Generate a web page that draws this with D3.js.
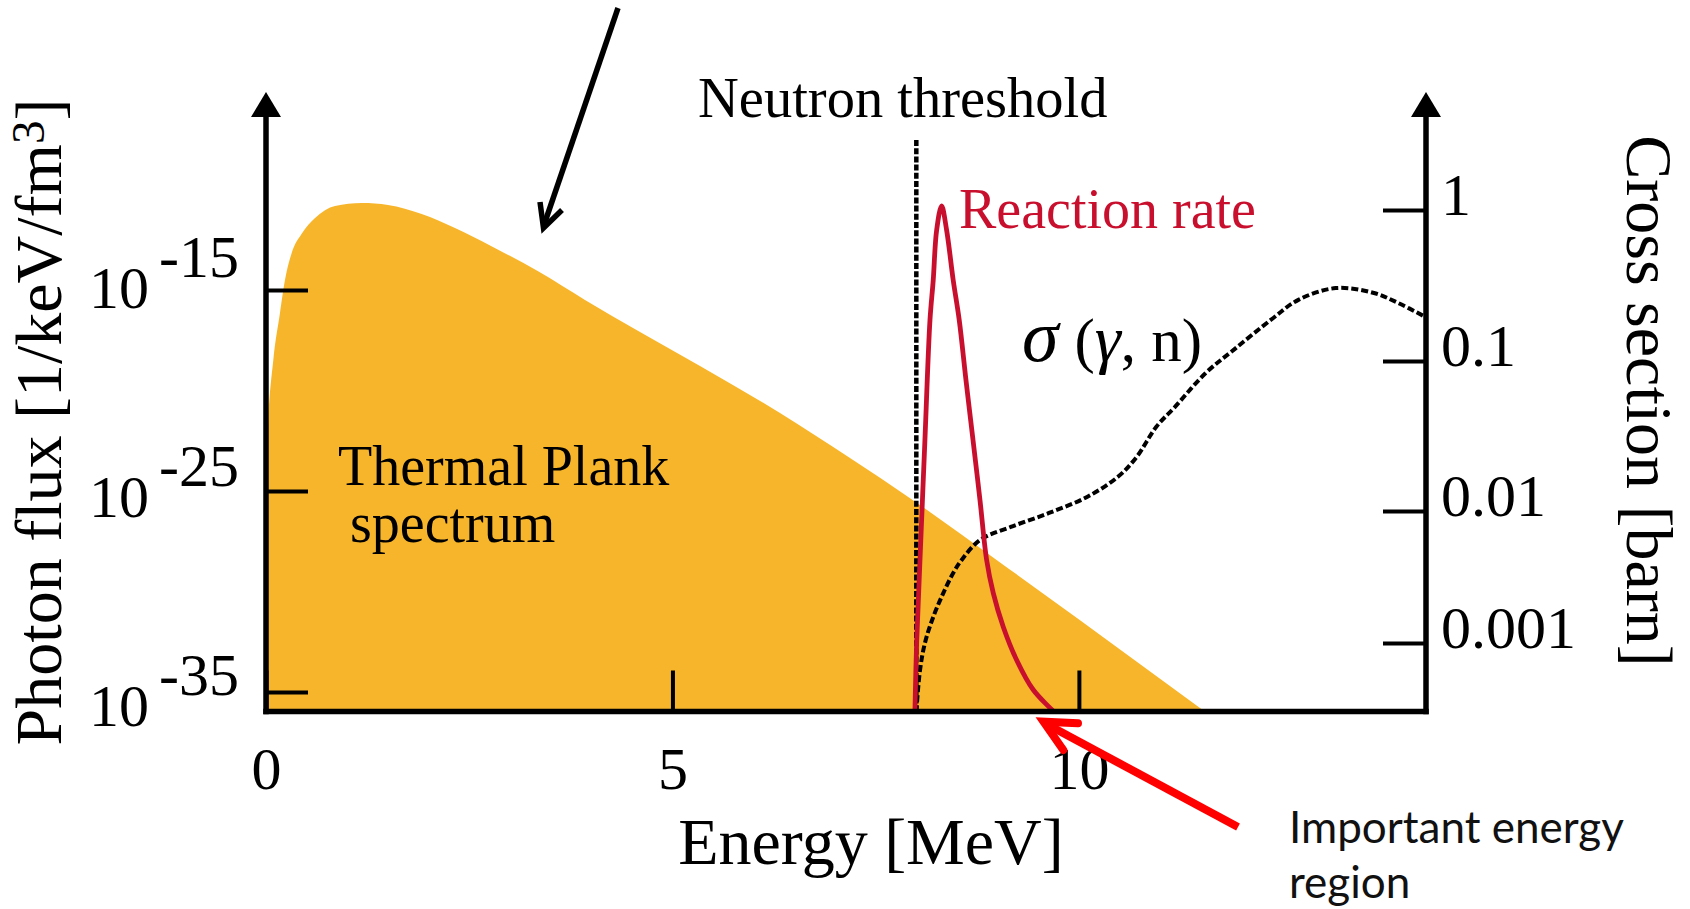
<!DOCTYPE html>
<html>
<head>
<meta charset="utf-8">
<script src="https://cdn.jsdelivr.net/npm/d3@7"></script>
<style>
  html, body { margin: 0; padding: 0; background: #fff; }
  svg { display: block; }
</style>
</head>
<body>
<svg id="chart" width="1690" height="909"></svg>
<script>
// ---- Axis ticks ----
const energyTicks = [0, 5, 10];                 // MeV
const fluxTickExponents = [-15, -25, -35];      // 10^n  [1/keV/fm^3]
const sigmaTickLogs = [0, -1, -2, -3];          // log10(barn)
const thresholdEnergy = 8.0;                    // MeV

// ---- Thermal Planck photon spectrum ----
const planckEnergy = [0, 0.028, 0.09, 0.172, 0.234, 0.316, 0.439, 0.603, 0.849, 1.177,
  1.501, 1.915, 2.325, 2.768, 3.358, 3.924, 4.601, 5.339, 6.323, 7.184,
  7.959, 9.03, 10.01, 10.75, 11.49, 11.74];
const planckFlux = [1e-24, 3.4e-22, 3.3e-19, 7.2e-17, 3.2e-15, 6.9e-14, 6.2e-13, 3.8e-12, 1.5e-11, 2.1e-11,
  1.7e-11, 6.0e-12, 1.2e-12, 1.55e-13, 8.0e-15, 3.2e-16, 8.1e-18, 1.66e-19, 7.6e-22, 4.4e-24,
  3.5e-26, 2.8e-29, 3.8e-32, 2.5e-34, 1.6e-36, 2.9e-37];

// ---- Reaction rate (relative, peak = 1) ----
const rateEnergy = [7.983, 8.004, 8.045, 8.106, 8.168, 8.208, 8.25, 8.311, 8.373, 8.454,
  8.528, 8.611, 8.697, 8.783, 8.865, 8.946, 9.069, 9.234, 9.438, 9.684];
const rateValue = [0, 0.135, 0.299, 0.537, 0.774, 0.853, 0.952, 1.0, 0.952, 0.853,
  0.774, 0.655, 0.537, 0.418, 0.299, 0.234, 0.167, 0.101, 0.042, 0];

// ---- (gamma, n) cross section [barn] ----
const sigmaEnergy = [8.0, 8.045, 8.106, 8.209, 8.332, 8.454, 8.558, 8.783, 9.161, 9.632,
  10.10, 10.48, 10.71, 10.95, 11.18, 11.56, 11.90, 12.36, 12.70, 13.16,
  13.63, 13.93, 14.26];
const sigmaValue = [0.0003, 6.2e-4, 1.0e-3, 1.58e-3, 2.39e-3, 3.39e-3, 4.26e-3, 6.03e-3, 7.57e-3, 9.66e-3,
  0.0124, 0.0169, 0.0229, 0.0363, 0.0493, 0.0832, 0.118, 0.187, 0.254, 0.304,
  0.282, 0.242, 0.196];

// ---- Styles ----
const SERIF = '"Liberation Serif", "Times New Roman", Times, serif';
const SANS = 'Lato, "Noto Sans", sans-serif';
const ORANGE = "#F7B52C";
const CRIMSON = "#C8102E";

const svg = d3.select("#chart");

// ---- Scales ----
const x = d3.scaleLinear().domain([0, 14.27]).range([266, 1426]);
const yFlux = d3.scaleLog().domain([1e-35, 1e-15]).range([692, 290]);
const ySigmaLog = d3.scaleLinear().domain([-3, -2, -1, 0]).range([643, 511, 361, 210]);
const ySigma = v => ySigmaLog(Math.log10(v));
const yRate = d3.scaleLinear().domain([0, 1]).range([711, 206]);

const baseY = 711.5;
const axisTop = 92;
const [xL, xR] = x.range();

// Plot clip
svg.append("defs").append("clipPath").attr("id", "plotArea")
  .append("rect").attr("x", xL).attr("y", 0).attr("width", xR - xL).attr("height", baseY);

// ---- Planck spectrum (filled) ----
const planck = planckEnergy.map((e, i) => ({ e, v: planckFlux[i] }));
svg.append("path")
  .datum(planck)
  .attr("clip-path", "url(#plotArea)")
  .attr("fill", ORANGE)
  .attr("d", d3.area()
    .x(d => x(d.e))
    .y0(baseY)
    .y1(d => yFlux(d.v))
    .curve(d3.curveMonotoneX));

// ---- Neutron threshold ----
svg.append("line")
  .attr("x1", x(thresholdEnergy)).attr("x2", x(thresholdEnergy))
  .attr("y1", 140).attr("y2", baseY)
  .attr("stroke", "#000").attr("stroke-width", 4.5)
  .attr("stroke-dasharray", "6,2.2");

// ---- Cross section curve ----
const sigma = sigmaEnergy.map((e, i) => ({ e, v: sigmaValue[i] }));
svg.append("path")
  .datum(sigma)
  .attr("fill", "none")
  .attr("stroke", "#000")
  .attr("stroke-width", 4)
  .attr("stroke-dasharray", "7,3")
  .attr("d", d3.line().x(d => x(d.e)).y(d => ySigma(d.v)).curve(d3.curveCatmullRom.alpha(0.5)));

// ---- Reaction rate curve ----
const rate = rateEnergy.map((e, i) => ({ e, v: rateValue[i] }));
svg.append("path")
  .datum(rate)
  .attr("fill", "none")
  .attr("stroke", CRIMSON)
  .attr("stroke-width", 4.8)
  .attr("stroke-linejoin", "round")
  .attr("d", d3.line().x(d => x(d.e)).y(d => yRate(d.v)).curve(d3.curveCatmullRom.alpha(0.5)));

// ---- Axes frame with arrowheads ----
const frame = svg.append("g").attr("stroke", "#000").attr("stroke-width", 5.5).attr("fill", "none");
frame.append("line").attr("x1", xL - 2.75).attr("x2", xR + 2.75).attr("y1", baseY).attr("y2", baseY);
[xL, xR].forEach(ax => {
  frame.append("line").attr("x1", ax).attr("x2", ax).attr("y1", baseY + 2.75).attr("y2", axisTop + 20);
  svg.append("path")
    .attr("d", `M${ax},${axisTop}L${ax - 15},${axisTop + 25}L${ax + 15},${axisTop + 25}Z`)
    .attr("fill", "#000");
});

// Bottom axis
const gx = svg.append("g")
  .attr("transform", `translate(0,${baseY})`)
  .call(d3.axisBottom(x).tickValues(energyTicks).tickSizeInner(-41).tickSizeOuter(0)
    .tickPadding(35).tickFormat(d3.format("d")))
  .attr("font-family", SERIF).attr("font-size", 60);
gx.select(".domain").remove();
gx.selectAll(".tick line").attr("stroke", "#000").attr("stroke-width", 4);
gx.selectAll(".tick text").attr("fill", "#000");

// Left axis (photon flux)
const gyL = svg.append("g")
  .attr("transform", `translate(${xL},0)`)
  .call(d3.axisLeft(yFlux).tickValues(fluxTickExponents.map(e => Math.pow(10, e)))
    .tickSizeInner(-42).tickSizeOuter(0).tickFormat(""));
gyL.select(".domain").remove();
gyL.selectAll(".tick line").attr("stroke", "#000").attr("stroke-width", 4);

const fluxLabels = svg.append("g").attr("font-family", SERIF).attr("font-size", 60).attr("fill", "#000");
fluxTickExponents.forEach(n => {
  const t = fluxLabels.append("text")
    .attr("x", 89)
    .attr("y", yFlux(Math.pow(10, n)) + 18 + (-15 - n) * 0.8);
  t.append("tspan").text("10");
  t.append("tspan").attr("dx", 10).attr("dy", -31).text(String(n));
});

// Right axis (cross section)
const gyR = svg.append("g")
  .attr("transform", `translate(${xR},0)`)
  .call(d3.axisRight(ySigmaLog).tickValues(sigmaTickLogs)
    .tickSizeInner(-43).tickSizeOuter(0).tickPadding(15)
    .tickFormat(d => String(Math.pow(10, d))))
  .attr("font-family", SERIF).attr("font-size", 60);
gyR.select(".domain").remove();
gyR.selectAll(".tick line").attr("stroke", "#000").attr("stroke-width", 4);
gyR.selectAll(".tick text").attr("fill", "#000").attr("dy", "0.07em");

// ---- Axis titles ----
const leftTitle = svg.append("text")
  .attr("transform", "translate(61,422) rotate(-90)")
  .attr("text-anchor", "middle")
  .attr("font-family", SERIF).attr("font-size", 66).attr("fill", "#000");
leftTitle.append("tspan").text("Photon flux [1/keV/fm");
leftTitle.append("tspan").attr("font-size", 47).attr("dy", -17).text("3");
leftTitle.append("tspan").attr("dy", 17).text("]");

svg.append("text")
  .attr("transform", "translate(1627,401) rotate(90)")
  .attr("text-anchor", "middle")
  .attr("font-family", SERIF).attr("font-size", 66).attr("fill", "#000")
  .text("Cross section [barn]");

svg.append("text")
  .attr("x", 871).attr("y", 864)
  .attr("text-anchor", "middle")
  .attr("font-family", SERIF).attr("font-size", 66).attr("fill", "#000")
  .text("Energy [MeV]");

// ---- Annotations ----
const notes = svg.append("g").attr("font-family", SERIF).attr("font-size", 56).attr("fill", "#000");
notes.append("text").attr("x", 698).attr("y", 117).attr("font-size", 56.5).text("Neutron threshold");
notes.append("text").attr("x", 959).attr("y", 228).attr("fill", CRIMSON).text("Reaction rate");
notes.append("text").attr("x", 338).attr("y", 485).text("Thermal Plank");
notes.append("text").attr("x", 350).attr("y", 542).text("spectrum");

const sig = notes.append("text").attr("x", 1022).attr("y", 361).attr("font-size", 61);
sig.append("tspan").attr("font-style", "italic").attr("font-size", 74).text("σ");
sig.append("tspan").attr("dx", 16).text("(");
sig.append("tspan").attr("font-style", "italic").attr("font-size", 66).text("γ");
sig.append("tspan").text(", n)");

const imp = svg.append("g").attr("font-family", SANS).attr("font-size", 44).attr("fill", "#111");
imp.append("text").attr("x", 1289).attr("y", 843).text("Important energy");
imp.append("text").attr("x", 1289).attr("y", 898).text("region");

// Black pointer
svg.append("line").attr("x1", 618).attr("y1", 8).attr("x2", 544).attr("y2", 225)
  .attr("stroke", "#000").attr("stroke-width", 5.5);
svg.append("path").attr("d", "M540,202L543.5,228L562,210")
  .attr("fill", "none").attr("stroke", "#000").attr("stroke-width", 5.5)
  .attr("stroke-linejoin", "miter");

// Red pointer
svg.append("line").attr("x1", 1238).attr("y1", 827).attr("x2", 1050).attr("y2", 726)
  .attr("stroke", "#FF0000").attr("stroke-width", 8);
svg.append("path").attr("d", "M1078,723.3L1043.5,721.7L1063.3,750")
  .attr("fill", "none").attr("stroke", "#FF0000").attr("stroke-width", 8)
  .attr("stroke-linejoin", "miter").attr("stroke-linecap", "round");
</script>
</body>
</html>
